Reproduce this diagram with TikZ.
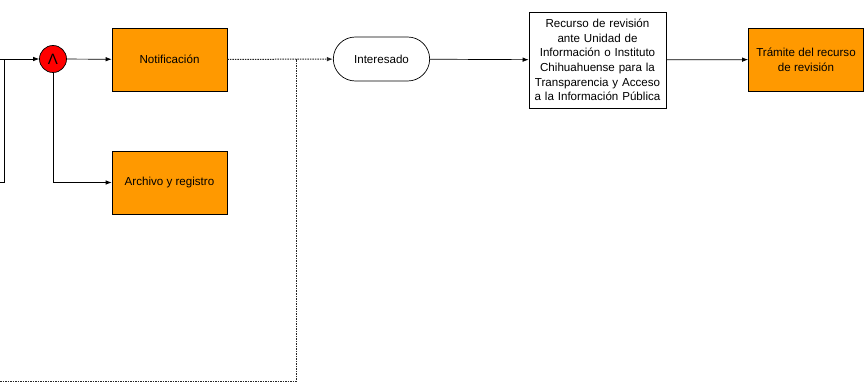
\documentclass[tikz,border=0pt]{standalone}
\usepackage{fontspec}
\setmainfont{Liberation Sans}
\usetikzlibrary{arrows.meta,shapes.misc}

\definecolor{naranja}{RGB}{255,153,0}
\definecolor{rojo}{RGB}{255,0,0}

\tikzset{
  texto/.style={font=\fontsize{11.6}{14.6}\selectfont, align=center},
  tarea/.style={texto, draw, fill=naranja, minimum width=115pt, minimum height=63pt, inner sep=0pt},
  actor/.style={texto, draw, rounded rectangle, minimum width=103pt, minimum height=44pt},
  recurso/.style={texto, draw, fill=white, text width=137pt, minimum height=96pt, inner sep=0pt},
  compuerta/.style={draw, circle, fill=rojo, minimum size=27pt, inner sep=0pt, font=\fontsize{15}{15}\selectfont},
  flecha/.style={-{Latex[length=6pt,width=4.5pt]}},
  punteado/.style={draw=black!85, line width=1pt, dash pattern=on 1.5pt off 1pt}
}

\begin{document}
\begin{tikzpicture}[x=1pt, y=-1pt, line width=0.7pt]
  \useasboundingbox (0,0) rectangle (865,385);

  % compuerta y tareas
  \node[compuerta] (yop) at (53,59) {Λ};
  \node[tarea] (noti) at (169.5,59.5) {Notificación};
  \node[tarea] (arch) at (169.5,182.5) {Archivo y registro};

  % interesado y recurso
  \node[actor] (inter) at (381.5,59) {Interesado};
  \node[recurso] (recur) at (597.5,60) {Recurso de revisión\\ante Unidad de\\Información o Instituto\\Chihuahuense para la\\Transparencia y Acceso\\a la Información Pública};
  \node[tarea] (tram) at (806,59.5) {Trámite del recurso\\de revisión};

  % entradas desde la izquierda
  \coordinate (entA) at (0,59);
  \coordinate (entB) at (0,182);
  \coordinate (codo) at (4,59);
  \draw[flecha] (entA) -- (yop);
  \draw (entB) -| (codo);

  \draw[flecha] (yop) -- (noti);
  \draw[flecha] (yop) |- (arch);

  % retorno punteado
  \coordinate (unionP) at (296,59);
  \coordinate (izqP) at (0,381);
  \draw[punteado, flecha] (noti) -- (inter);
  \draw[punteado] (izqP) -| (unionP);

  \draw[flecha] (inter) -- (recur);
  \draw[flecha] (recur) -- (tram);
\end{tikzpicture}
\end{document}
